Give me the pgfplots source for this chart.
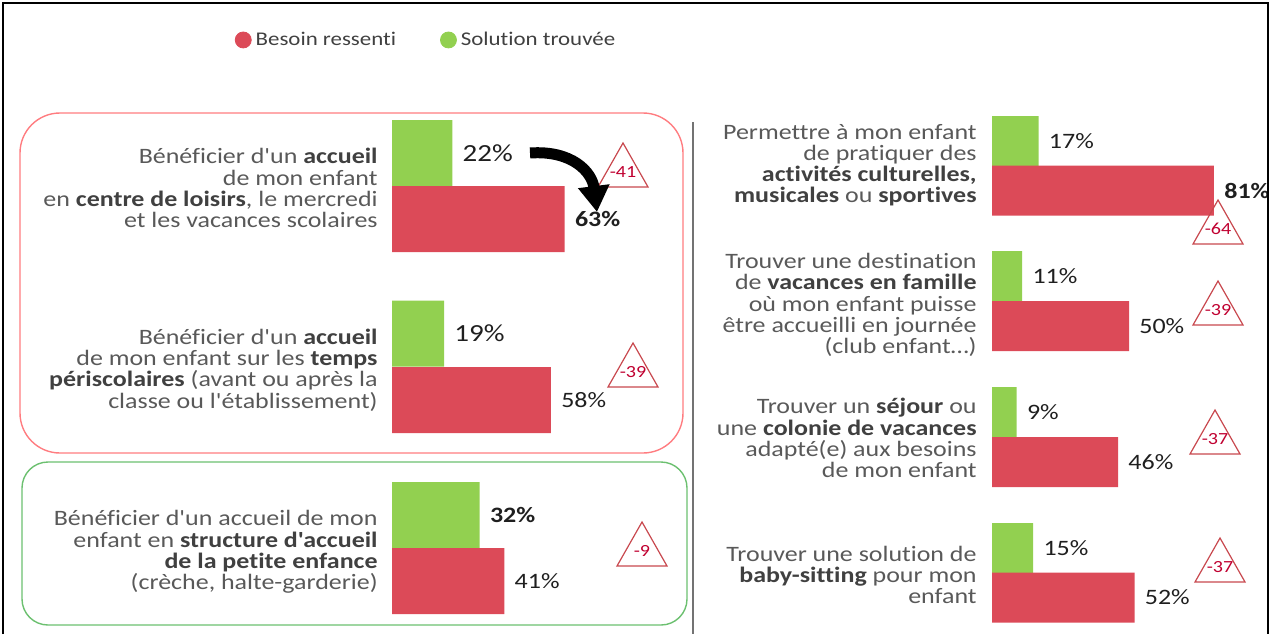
\documentclass[border=0pt]{standalone}
\usepackage{pgfplots}
\pgfplotsset{compat=1.18}
\usepackage{fontspec}
\setmainfont{Carlito}[FakeStretch=1.18, Ligatures={TeXOff,CommonOff}]
\usetikzlibrary{arrows.meta}
\definecolor{bred}{HTML}{DC4A58}
\definecolor{bgreen}{HTML}{92D050}
\definecolor{lab}{HTML}{595959}
\definecolor{labb}{HTML}{404040}
\definecolor{tri}{HTML}{C8484E}
\definecolor{tritxt}{HTML}{C00030}
\definecolor{redbox}{HTML}{FF7C80}
\definecolor{greenbox}{HTML}{6CC070}
\newcommand{\B}[1]{\textbf{\color{labb}#1}}
\newcommand{\vl}{\fontsize{11}{12}\selectfont}
\newcommand{\vL}{\fontsize{12.3}{13}\selectfont}
\newcommand{\tri}[3]{%
  \draw[tri, line width=0.6pt] (#1-25,#2+44) -- (#1,#2) -- (#1+25,#2+44) -- cycle;
  \node[text=tritxt, font=\fontsize{8.5}{9}\selectfont, inner sep=0pt] at (#1,#2+29) {#3};}
\pgfplotsset{
  mybars/.style={
    scale only axis, hide axis, clip=false,
    xmin=0, xmax=100, ymin=100, ymax=634, y dir=reverse,
    height=267pt, width=137pt, anchor=south west,
    xbar, bar shift=0pt,
    nodes near coords, point meta=explicit symbolic,
    every node near coord/.append style={anchor=west, inner sep=0pt, xshift=5pt, text=black!88},
  },
}
\begin{document}
\begin{tikzpicture}
\useasboundingbox (0,0) rectangle (636pt,317pt);
\begin{axis}[mybars, at={(196pt,0pt)}, bar width=66,
  legend style={at={(axis description cs:-0.575,1.1124)}, anchor=west, draw=none, fill=none,
    inner sep=0pt, font=\fontsize{9.7}{11}\selectfont, text=labb,
    /tikz/every even column/.append style={column sep=20pt}},
  legend columns=2]
\addlegendimage{legend image code/.code={\fill[bred] (0pt,0pt) circle (4pt);}}
\addlegendentry{Besoin ressenti}
\addlegendimage{legend image code/.code={\fill[bgreen] (0pt,0pt) circle (4pt);}}
\addlegendentry{Solution trouvée}
\addplot[fill=bgreen, draw=none, forget plot] coordinates {
 (22,153) [{\vL 22\%}]
 (19,333.5) [{\vL 19\%}]
 (32,515) [{\vl\textbf{32\%}}]
};
\addplot[fill=bred, draw=none, forget plot] coordinates {
 (63,219) [{\vl\textbf{63\%}}]
 (58,400) [{\vl 58\%}]
 (41,581) [{\vl 41\%}]
};
\end{axis}
\begin{axis}[mybars, at={(496pt,0pt)}, bar width=50]
\addplot[fill=bgreen, draw=none] coordinates {
 (17,141) [{\vl 17\%}]
 (11,276) [{\vl 11\%}]
 (9,412) [{\vl 9\%}]
 (15,548) [{\vl 15\%}]
};
\addplot[fill=bred, draw=none] coordinates {
 (81,190.5) [{\vl\textbf{81\%}}]
 (50,326) [{\vl 50\%}]
 (46,462) [{\vl 46\%}]
 (52,597.5) [{\vl 52\%}]
};
\end{axis}
\begin{scope}[x=0.5pt,y=-0.5pt,shift={(0pt,317pt)}]
\draw[black, line width=1pt] (3,634) -- (3,3) -- (1268,3) -- (1268,634);
\draw[redbox, line width=0.7pt, rounded corners=20pt] (20,113) rectangle (683,453);
\draw[greenbox, line width=0.7pt, rounded corners=13pt] (22,462) rectangle (687,625);
\draw[black!55, line width=0.6pt] (693,122) -- (693,634);
\begin{scope}[every node/.style={anchor=east, align=right, text=lab, inner sep=0pt, font=\fontsize{11}{10.6}\selectfont}]
\node at (378,188) {Bénéficier d'un \B{accueil}\\de mon enfant\\en \B{centre de loisirs}, le mercredi\\et les vacances scolaires};
\node at (378,370) {Bénéficier d'un \B{accueil}\\de mon enfant sur les \B{temps}\\\B{périscolaires} (avant ou après la\\classe ou l'établissement)};
\node at (378,552) {Bénéficier d'un accueil de mon\\enfant en \B{structure d'accueil}\\\B{de la petite enfance}\\(crèche, halte-garderie)};
\node at (977,165) {Permettre à mon enfant\\de pratiquer des\\\B{activités culturelles,}\\\B{musicales} ou \B{sportives}};
\node at (977,305) {Trouver une destination\\de \B{vacances en famille}\\où mon enfant puisse\\être accueilli en journée\\(club enfant…)};
\node at (977,438) {Trouver un \B{séjour} ou\\une \B{colonie de vacances}\\adapté(e) aux besoins\\de mon enfant};
\node at (977,575) {Trouver une solution de\\\B{baby-sitting} pour mon\\enfant};
\end{scope}
\tri{623}{143}{-41}
\tri{633}{343}{-39}
\tri{642}{522}{-9}
\tri{1218}{200}{-64}
\tri{1218}{281}{-39}
\tri{1215}{410}{-37}
\tri{1220}{538}{-37}
\draw[black, line width=5.5pt, -{Triangle[length=13pt, width=15pt]}] (530,153) .. controls (572,150) and (592,172) .. (597,212);
\end{scope}
\end{tikzpicture}
\end{document}
